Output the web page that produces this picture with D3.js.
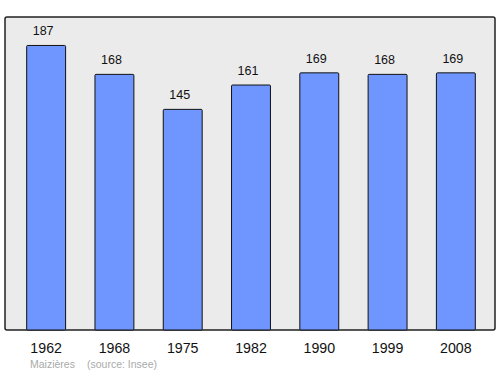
<!DOCTYPE html>
<html><head><meta charset="utf-8">
<script src="https://cdn.jsdelivr.net/npm/d3@7"></script>
<style>body{margin:0;background:#fff}svg{display:block}</style>
</head><body><svg id="c" width="500" height="374"></svg>
<script>
const years = ["1962","1968","1975","1982","1990","1999","2008"];
const population = [187,168,145,161,169,168,169];
const commune = "Maizières";
const source = "(source: Insee)";

const svg = d3.select("#c");
const frame = {x0:5, x1:495, y0:17, y1:330};
svg.append("rect").attr("x",frame.x0).attr("y",frame.y0)
  .attr("width",frame.x1-frame.x0).attr("height",frame.y1-frame.y0)
  .attr("rx",2).attr("fill","#ebebeb").attr("stroke","#222").attr("stroke-width",1.5);

const x = d3.scaleBand().domain(years).range([12,490]).paddingInner(0.43).paddingOuter(0.215);
const y = d3.scaleLinear().domain([0, d3.max(population)*1.1]).range([frame.y1, frame.y0]);

const g = svg.append("g");
g.selectAll("rect.bar").data(population).enter().append("rect").attr("class","bar")
  .attr("x",(d,i)=>x(years[i])).attr("y",d=>y(d))
  .attr("width",x.bandwidth()).attr("height",d=>y(0)-y(d))
  .attr("rx",1).attr("fill","#6f96ff").attr("stroke","#111").attr("stroke-width",1);

g.selectAll("text.val").data(population).enter().append("text").attr("class","val")
  .attr("x",(d,i)=>x(years[i])+x.bandwidth()/2-3).attr("y",d=>y(d)-10)
  .attr("text-anchor","middle").attr("font-family","Liberation Sans, Arial, sans-serif")
  .attr("font-size",12.5).attr("fill","#111").text(d=>d);

const axis = d3.axisBottom(x).tickSize(0).tickPadding(13);
const ax = svg.append("g").attr("transform",`translate(0,${frame.y1})`).call(axis);
ax.select(".domain").remove();
ax.selectAll("text").attr("font-family","Liberation Sans, Arial, sans-serif").attr("font-size",14.2).attr("fill","#111");

svg.append("text").attr("x",30).attr("y",368).attr("font-family","Liberation Sans, Arial, sans-serif")
  .attr("font-size",10.5).attr("fill","#aaa").text(commune);
svg.append("text").attr("x",87).attr("y",368).attr("font-family","Liberation Sans, Arial, sans-serif")
  .attr("font-size",10.5).attr("fill","#aaa").text(source);
</script></body></html>
